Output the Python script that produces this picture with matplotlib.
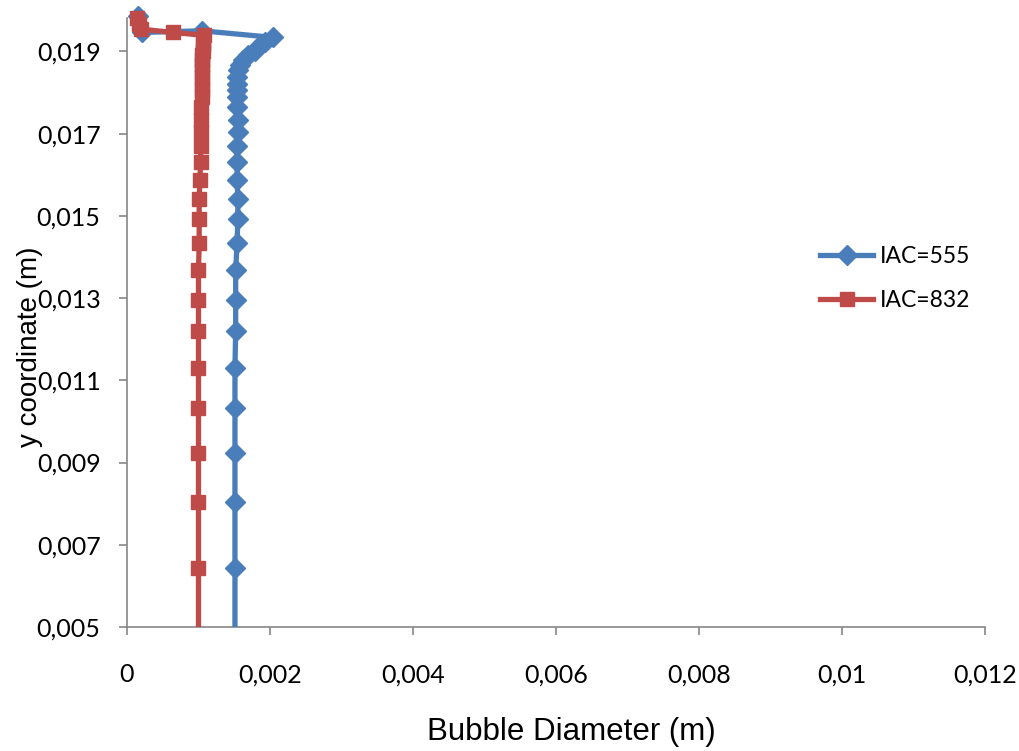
import matplotlib
matplotlib.use("Agg")
import matplotlib.pyplot as plt
from matplotlib.patches import Rectangle
from matplotlib.ticker import FixedLocator, FuncFormatter

# Bubble diameter profiles along the height of the column
iac555_diameter = [0.00015, 0.00021, 0.00105, 0.00204, 0.00193, 0.00186, 0.00179,
                   0.00169, 0.00162, 0.00158, 0.00155, 0.00154, 0.00154, 0.00154,
                   0.00154, 0.00154, 0.00155, 0.00155, 0.00154, 0.00154, 0.00154,
                   0.00155, 0.00155, 0.00154, 0.00152, 0.00152, 0.00152, 0.00151,
                   0.00151, 0.00151, 0.00151, 0.00151, 0.00151]
iac555_y = [0.01985, 0.01946, 0.01950, 0.01934, 0.01924, 0.01915, 0.01902,
            0.01890, 0.01878, 0.01866, 0.01854, 0.01837, 0.01820, 0.01805,
            0.01790, 0.01764, 0.01734, 0.01703, 0.01669, 0.01632, 0.01588,
            0.01542, 0.01493, 0.01433, 0.01369, 0.01296, 0.01221, 0.01131,
            0.01033, 0.00924, 0.00804, 0.00644, 0.00460]

iac832_diameter = [0.00014, 0.00017, 0.00020, 0.00064, 0.00108, 0.00106, 0.00106,
                   0.00106, 0.00105, 0.00105, 0.00105, 0.00105, 0.00105, 0.00105,
                   0.00105, 0.00105, 0.00104, 0.00103, 0.00103, 0.00103, 0.00103,
                   0.00102, 0.00101, 0.00101, 0.00101, 0.00100, 0.00100, 0.00100,
                   0.00100, 0.00100, 0.00100, 0.00100, 0.00100, 0.00100]
iac832_y = [0.01980, 0.01966, 0.01954, 0.01946, 0.01939, 0.01924, 0.01915,
            0.01902, 0.01890, 0.01878, 0.01866, 0.01854, 0.01837, 0.01820,
            0.01805, 0.01790, 0.01764, 0.01734, 0.01703, 0.01669, 0.01632,
            0.01588, 0.01542, 0.01493, 0.01433, 0.01369, 0.01296, 0.01221,
            0.01131, 0.01033, 0.00924, 0.00804, 0.00644, 0.00460]

series_labels = ["IAC=555", "IAC=832"]
x_ticks = [0, 0.002, 0.004, 0.006, 0.008, 0.01, 0.012]
y_ticks = [0.005, 0.007, 0.009, 0.011, 0.013, 0.015, 0.017, 0.019]

plt.rcParams['font.family'] = ['Lato', 'DejaVu Sans']

fig = plt.figure(figsize=(10.2, 7.51), dpi=100)
ax = fig.add_axes([0.1245, 0.1651, 0.8412, 0.8103])

blue = "#4A7EBB"
red = "#BE4B48"

l1, = ax.plot(iac555_diameter, iac555_y, color=blue, lw=3.8, marker="D",
              ms=10.5, mec=blue, mew=1, label=series_labels[0], zorder=3)
l2, = ax.plot(iac832_diameter, iac832_y, color=red, lw=3.8, marker="s",
              ms=10, mec=red, mew=1, label=series_labels[1], zorder=4)

# let the markers spill over the top edge but clip at the bottom
for line in (l1, l2):
    clip = Rectangle((-0.1, 0), 1.2, 1.2, transform=ax.transAxes)
    line.set_clip_path(clip)

ax.set_xlim(0, 0.012)
ax.set_ylim(0.005, 0.0198)

def comma_fmt(v, pos):
    s = f"{v:.3f}".rstrip("0").rstrip(".")
    return s.replace(".", ",")

ax.xaxis.set_major_locator(FixedLocator(x_ticks))
ax.yaxis.set_major_locator(FixedLocator(y_ticks))
ax.xaxis.set_major_formatter(FuncFormatter(comma_fmt))
ax.yaxis.set_major_formatter(FuncFormatter(comma_fmt))

for side in ("top", "right"):
    ax.spines[side].set_visible(False)
for side in ("left", "bottom"):
    ax.spines[side].set_color("#868686")
    ax.spines[side].set_linewidth(1.2)

ax.tick_params(axis="x", direction="out", length=6, width=1.2, color="#868686",
               labelsize=18, pad=20)
ax.tick_params(axis="y", direction="out", length=6, width=1.2, color="#868686",
               labelsize=18, pad=13)

ax.set_xlabel("Bubble Diameter (m)", fontsize=22.5, va="center",
              family=['Liberation Sans', 'DejaVu Sans'])
ax.set_ylabel("y coordinate (m)", fontsize=20, va="center",
              family=['Liberation Sans', 'DejaVu Sans'])
ax.xaxis.set_label_coords(0.5175, -0.172)
ax.yaxis.set_label_coords(-0.113, 0.46)

ax.legend(loc="center left", bbox_to_anchor=(0.784, 0.572), frameon=False,
          fontsize=16.5, handlelength=2.3, handletextpad=0.3, labelspacing=1.0)

fig.savefig("out.png", dpi=100)
